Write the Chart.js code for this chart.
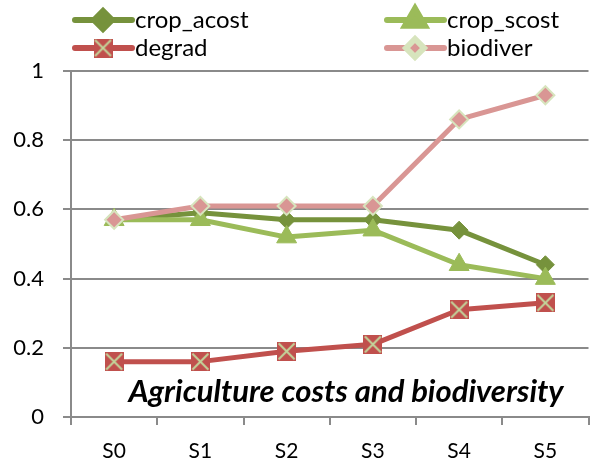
<!DOCTYPE html>
<html>
<head>
<meta charset="utf-8">
<script src="https://cdn.jsdelivr.net/npm/chart.js@4.4.1/dist/chart.umd.min.js"></script>
<style>
  html, body { margin: 0; padding: 0; background: #fff; }
</style>
</head>
<body>
<canvas id="myChart" width="601" height="466"></canvas>
<script>
const scenarios = ['S0', 'S1', 'S2', 'S3', 'S4', 'S5'];
const cropAcost = [0.57, 0.59, 0.57, 0.57, 0.54, 0.44];
const cropScost = [0.57, 0.57, 0.52, 0.54, 0.44, 0.40];
const degrad = [0.16, 0.16, 0.19, 0.21, 0.31, 0.33];
const biodiver = [0.57, 0.61, 0.61, 0.61, 0.86, 0.93];
const yTicks = [0, 0.2, 0.4, 0.6, 0.8, 1];
const chartTitle = 'Agriculture costs and biodiversity';

const FONT = 'Lato';
const AXIS_GREY = '#8a8a8a';

// red square with a pale green cross, used for the degrad markers
function crossSquare(size) {
  const c = document.createElement('canvas');
  c.width = size;
  c.height = size;
  const g = c.getContext('2d');
  g.fillStyle = '#C0504D';
  g.fillRect(0, 0, size, size);
  g.strokeStyle = '#C3D69B';
  g.lineWidth = 2;
  g.beginPath();
  g.moveTo(1.5, 1.5); g.lineTo(size - 1.5, size - 1.5);
  g.moveTo(size - 1.5, 1.5); g.lineTo(1.5, size - 1.5);
  g.stroke();
  return c;
}
const degradMarker = crossSquare(19);

function series(label, data, color, style, radius, border, order) {
  return {
    label: label,
    data: data,
    borderColor: color,
    backgroundColor: color,
    borderWidth: 5,
    borderJoinStyle: 'round',
    pointStyle: style,
    pointRadius: radius,
    pointHoverRadius: radius,
    pointBackgroundColor: color,
    pointBorderColor: border || color,
    pointBorderWidth: border ? 2 : 1,
    order: order
  };
}

const datasets = [
  series('crop_acost', cropAcost, '#76923C', 'rectRot', 9, null, 4),
  series('crop_scost', cropScost, '#9BBB59', 'triangle', 11.5, null, 3),
  series('degrad', degrad, '#C0504D', degradMarker, 10, null, 2),
  series('biodiver', biodiver, '#D99694', 'rectRot', 9, '#D7E4BD', 1)
];

// two-column legend across the top
const legendPlugin = {
  id: 'gridLegend',
  afterDraw(chart) {
    const ctx = chart.ctx;
    const cols = [75, 387];
    const rows = [20, 48];
    ctx.save();
    chart.data.datasets.forEach((ds, i) => {
      const x = cols[i % 2];
      const y = rows[Math.floor(i / 2)];
      ctx.strokeStyle = ds.borderColor;
      ctx.lineWidth = 6;
      ctx.lineCap = 'round';
      ctx.beginPath();
      ctx.moveTo(x, y);
      ctx.lineTo(x + 57, y);
      ctx.stroke();
      ctx.fillStyle = ds.pointBackgroundColor;
      ctx.strokeStyle = ds.pointBorderColor;
      Chart.helpers.drawPoint(ctx, {
        pointStyle: ds.pointStyle,
        radius: ds.pointRadius,
        borderWidth: ds.pointBorderWidth,
        rotation: 0
      }, x + 28, y);
      ctx.fillStyle = '#000';
      ctx.font = '24px ' + FONT;
      ctx.textBaseline = 'middle';
      ctx.textAlign = 'left';
      ctx.fillText(ds.label, x + 60, y);
    });
    ctx.restore();
  }
};

// title sits inside the plot, near the bottom
const titlePlugin = {
  id: 'innerTitle',
  afterDraw(chart) {
    const ctx = chart.ctx;
    ctx.save();
    ctx.fillStyle = '#000';
    ctx.font = 'italic bold 31px ' + FONT;
    ctx.textAlign = 'center';
    ctx.textBaseline = 'alphabetic';
    ctx.fillText(chartTitle, 346, 402);
    ctx.restore();
  }
};

const ctx = document.getElementById('myChart').getContext('2d');
new Chart(ctx, {
  type: 'line',
  data: { labels: scenarios, datasets: datasets },
  plugins: [legendPlugin, titlePlugin],
  options: {
    responsive: false,
    animation: false,
    devicePixelRatio: 1,
    layout: { padding: { top: 71, right: 2, left: 0, bottom: 0 } },
    plugins: {
      legend: { display: false },
      tooltip: { enabled: false }
    },
    scales: {
      x: {
        offset: true,
        grid: {
          offset: true,
          drawOnChartArea: false,
          tickLength: 8,
          color: AXIS_GREY,
          lineWidth: 2
        },
        border: { color: AXIS_GREY, width: 2 },
        ticks: { color: '#000', padding: 14, font: { family: FONT, size: 21 } },
        afterFit(scale) { scale.height = 49; }
      },
      y: {
        min: 0,
        max: 1,
        afterBuildTicks(scale) {
          scale.ticks = yTicks.map(v => ({ value: v }));
        },
        grid: { color: AXIS_GREY, lineWidth: 2, tickLength: 8 },
        border: { color: AXIS_GREY, width: 2 },
        ticks: {
          color: '#000',
          padding: 19,
          font: { family: FONT, size: 22 },
          callback: v => String(v)
        },
        afterFit(scale) { scale.width = 71; }
      }
    }
  }
});
</script>
</body>
</html>
